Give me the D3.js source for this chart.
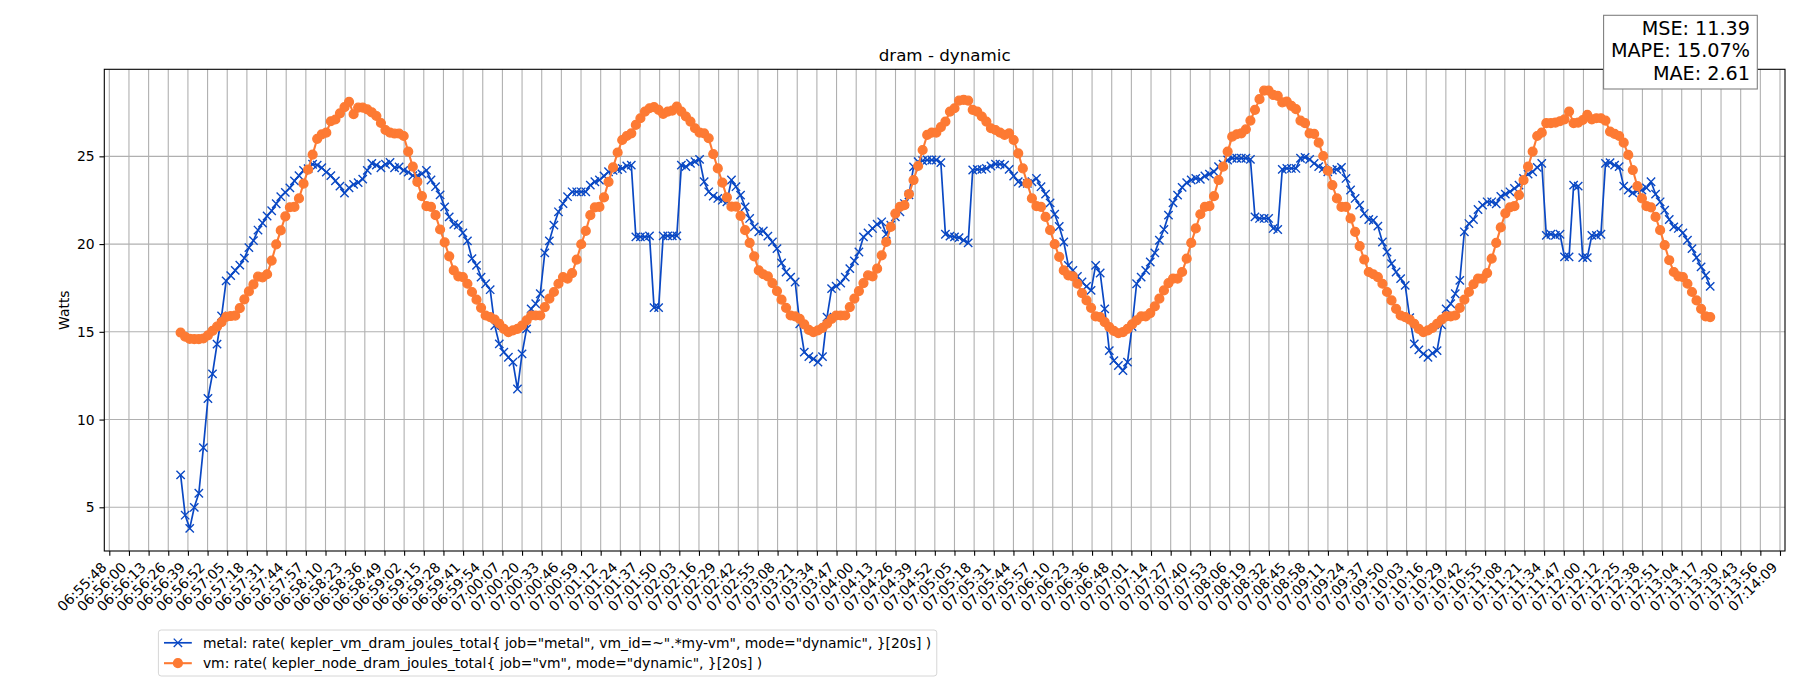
<!DOCTYPE html>
<html><head><meta charset="utf-8">
<script src="https://cdn.jsdelivr.net/npm/d3@7"></script>
<style>
body{margin:0;background:#fff}
text{font-family:"DejaVu Sans",sans-serif;white-space:pre;fill:#000}
</style>
</head><body>
<svg id="chart" width="1800" height="700"></svg>
<script>
const chartTitle = "dram - dynamic";
const yAxisLabel = "Watts";
const tickLabels = ["06:55:48","06:56:00","06:56:13","06:56:26","06:56:39","06:56:52","06:57:05","06:57:18","06:57:31","06:57:44","06:57:57","06:58:10","06:58:23","06:58:36","06:58:49","06:59:02","06:59:15","06:59:28","06:59:41","06:59:54","07:00:07","07:00:20","07:00:33","07:00:46","07:00:59","07:01:12","07:01:24","07:01:37","07:01:50","07:02:03","07:02:16","07:02:29","07:02:42","07:02:55","07:03:08","07:03:21","07:03:34","07:03:47","07:04:00","07:04:13","07:04:26","07:04:39","07:04:52","07:05:05","07:05:18","07:05:31","07:05:44","07:05:57","07:06:10","07:06:23","07:06:36","07:06:48","07:07:01","07:07:14","07:07:27","07:07:40","07:07:53","07:08:06","07:08:19","07:08:32","07:08:45","07:08:58","07:09:11","07:09:24","07:09:37","07:09:50","07:10:03","07:10:16","07:10:29","07:10:42","07:10:55","07:11:08","07:11:21","07:11:34","07:11:47","07:12:00","07:12:12","07:12:25","07:12:38","07:12:51","07:13:04","07:13:17","07:13:30","07:13:43","07:13:56","07:14:09"];
const yTickValues = [5, 10, 15, 20, 25];
const startTime = "06:56:35";
const stepSeconds = 3;
const seriesNames = [
  'metal: rate( kepler_vm_dram_joules_total{ job="metal", vm_id=~".*my-vm", mode="dynamic", }[20s] )',
  'vm: rate( kepler_node_dram_joules_total{ job="vm", mode="dynamic", }[20s] )'
];
const metricLines = ["MSE: 11.39", "MAPE: 15.07%", "MAE: 2.61"];
const metalValues = [6.85,4.55,3.8,5.0,5.8,8.4,11.2,12.6,14.3,15.9,17.9,18.2,18.5,18.8,19.2,19.8,20.2,20.8,21.2,21.6,21.9,22.3,22.7,22.95,23.2,23.6,23.9,24.2,24.3,24.55,24.5,24.35,24.1,23.9,23.6,23.3,22.9,23.2,23.4,23.5,23.7,24.2,24.6,24.5,24.35,24.55,24.65,24.35,24.4,24.2,24.1,23.9,23.9,24.0,24.2,23.65,23.27,22.8,22.12,21.55,21.13,21.08,20.64,20.18,19.17,18.79,18.12,17.74,17.4,15.36,14.31,13.84,13.55,13.27,11.74,13.74,15.17,16.31,16.6,17.17,19.5,20.18,21.08,21.84,22.31,22.7,22.98,22.98,22.98,22.98,23.36,23.55,23.65,23.88,24.12,24.2,24.25,24.31,24.45,24.5,20.41,20.41,20.41,20.47,16.38,16.38,20.47,20.47,20.47,20.47,24.5,24.41,24.6,24.7,24.83,23.55,22.98,22.73,22.6,22.5,22.41,23.65,23.27,22.79,22.12,21.46,20.98,20.7,20.75,20.45,20.12,19.74,18.92,18.41,18.12,17.84,15.46,13.84,13.59,13.46,13.27,13.59,15.84,17.46,17.6,17.78,18.12,18.6,19.04,19.55,20.41,20.64,20.89,21.13,21.27,20.56,21.08,21.55,21.84,22.31,22.8,24.4,24.7,24.75,24.79,24.79,24.79,24.64,20.56,20.45,20.41,20.37,20.22,20.07,24.22,24.26,24.26,24.31,24.45,24.56,24.56,24.5,24.26,23.88,23.55,23.46,23.46,23.55,23.74,23.27,22.85,22.35,21.7,21.0,20.12,18.79,18.5,18.16,17.84,17.59,17.36,18.79,18.35,16.31,13.93,13.36,13.08,12.79,13.27,15.3,17.74,18.12,18.5,18.98,19.5,20.22,20.83,21.65,22.35,22.79,23.23,23.5,23.65,23.74,23.69,23.88,23.99,24.12,24.41,24.56,24.79,24.89,24.89,24.89,24.89,24.83,21.55,21.46,21.46,21.46,20.89,20.83,24.26,24.31,24.31,24.31,24.89,24.94,24.83,24.6,24.41,24.31,24.12,24.22,24.26,24.37,23.74,23.08,22.6,22.22,21.74,21.4,21.36,21.02,20.12,19.55,18.89,18.41,18.03,17.65,15.8,14.31,13.97,13.74,13.55,13.78,13.93,15.4,16.31,16.6,17.17,17.93,20.7,21.17,21.4,21.97,22.22,22.41,22.41,22.3,22.72,22.85,22.98,23.17,23.36,23.74,23.99,24.12,24.37,24.6,20.5,20.56,20.5,20.56,19.27,19.27,23.36,23.3,19.23,19.23,20.5,20.5,20.56,24.6,24.64,24.5,24.41,23.3,23.08,22.92,23.04,23.08,23.2,23.55,22.85,22.41,21.93,21.4,20.98,20.89,20.64,20.22,19.74,19.23,18.7,18.22,17.59];
const vmValues = [14.96,14.72,14.6,14.58,14.58,14.62,14.8,15.05,15.3,15.55,15.85,15.9,15.92,16.35,16.85,17.3,17.7,18.15,18.1,18.28,19.06,19.98,20.78,21.58,22.1,22.12,22.6,23.44,24.24,25.1,26.0,26.25,26.35,27.0,27.1,27.45,27.8,28.1,27.4,27.78,27.78,27.68,27.5,27.3,26.9,26.5,26.35,26.3,26.3,26.16,25.27,24.41,23.55,22.73,22.16,22.12,21.65,20.83,20.1,19.3,18.5,18.16,18.12,17.74,17.27,16.83,16.37,15.93,15.84,15.69,15.46,15.17,14.98,15.08,15.17,15.36,15.65,15.93,15.93,15.93,16.41,16.89,17.27,17.74,18.12,18.03,18.35,19.11,19.99,20.75,21.65,22.09,22.12,22.66,23.55,24.37,25.22,25.93,26.16,26.31,26.79,27.17,27.55,27.74,27.8,27.65,27.42,27.55,27.61,27.84,27.55,27.27,26.98,26.6,26.35,26.31,26.03,25.13,24.31,23.5,22.66,22.13,22.13,21.61,20.79,20.07,19.3,18.5,18.28,18.16,17.78,17.32,16.83,16.37,15.93,15.88,15.74,15.42,15.11,14.98,15.08,15.23,15.46,15.74,15.93,15.93,15.93,16.41,16.89,17.32,17.78,18.22,18.16,18.6,19.36,20.12,20.98,21.74,22.12,22.22,22.85,23.65,24.45,25.36,26.22,26.35,26.35,26.66,26.98,27.55,27.74,28.18,28.22,28.18,27.65,27.55,27.27,26.98,26.6,26.5,26.35,26.22,26.31,25.93,25.17,24.31,23.46,22.6,22.16,22.12,21.55,20.79,20.0,19.27,18.5,18.22,18.16,17.74,17.21,16.79,16.37,15.88,15.84,15.55,15.27,15.05,14.92,14.98,15.17,15.42,15.65,15.88,15.88,16.07,16.45,16.89,17.36,17.78,18.03,18.03,18.41,19.17,20.07,20.89,21.7,22.12,22.16,22.73,23.65,24.41,25.27,26.12,26.26,26.31,26.54,27.04,27.65,28.26,28.75,28.75,28.5,28.45,28.07,28.12,27.88,27.69,27.04,26.89,26.31,26.28,25.78,25.02,24.18,23.36,22.6,22.12,22.12,21.46,20.7,19.88,19.12,18.41,18.28,18.12,17.74,17.27,16.79,16.31,15.93,15.84,15.69,15.46,15.17,14.98,15.08,15.23,15.46,15.69,15.88,15.88,15.93,16.37,16.83,17.27,17.71,18.03,18.03,18.35,19.17,20.07,20.95,21.75,22.09,22.16,22.79,23.65,24.41,25.27,26.16,26.35,26.89,26.89,26.92,27.0,27.11,27.55,26.89,26.92,27.07,27.36,27.11,27.17,27.17,27.04,26.41,26.28,26.16,25.78,25.08,24.22,23.3,22.6,22.16,22.09,21.55,20.79,19.94,19.08,18.41,18.16,18.12,17.74,17.27,16.79,16.31,15.88,15.84];

// ---- layout ----
const W = 1800, H = 700;
const A = {left: 104.3, right: 1785, top: 69.3, bottom: 551};
const padPx = 5;
const colors = {metal: "#0a48c4", vm: "#fd7a33"};
const fs = 13.9;

const parse = d3.timeParse("%H:%M:%S");
const t0 = parse(tickLabels[0]);
const t1 = parse(tickLabels[tickLabels.length - 1]);
const spanMs = t1 - t0;
const pxPerMs = (A.right - A.left - 2 * padPx) / spanMs;
const x = d3.scaleTime()
  .domain([new Date(+t0 - padPx / pxPerMs), new Date(+t1 + padPx / pxPerMs)])
  .range([A.left, A.right]);
const tickDates = tickLabels.map((l, i) => new Date(+t0 + spanMs * i / (tickLabels.length - 1)));
const y = d3.scaleLinear().domain([2.51, 29.96]).range([A.bottom, A.top]);

const start = parse(startTime);
const timeAt = i => new Date(+start + i * stepSeconds * 1000);

const svg = d3.select("#chart");
svg.append("rect").attr("width", W).attr("height", H).attr("fill", "#fff");

// grid
const grid = svg.append("g");
grid.selectAll("line.v").data(tickDates).join("line")
  .attr("x1", d => x(d)).attr("x2", d => x(d)).attr("y1", A.top).attr("y2", A.bottom)
  .attr("stroke", "#b0b0b0").attr("stroke-width", 1.1);
grid.selectAll("line.h").data(yTickValues).join("line")
  .attr("x1", A.left).attr("x2", A.right).attr("y1", d => y(d)).attr("y2", d => y(d))
  .attr("stroke", "#b0b0b0").attr("stroke-width", 1.1);

// axes
const tickLen = 4.86, tickPad = 4.86;
const xAxis = svg.append("g").attr("transform", `translate(0,${A.bottom})`)
  .call(d3.axisBottom(x).tickValues(tickDates).tickFormat((d, i) => tickLabels[i])
    .tickSize(tickLen).tickPadding(tickPad));
xAxis.select(".domain").remove();
xAxis.selectAll(".tick line").attr("stroke", "#000").attr("stroke-width", 1.1);
xAxis.selectAll(".tick text")
  .attr("font-family", "DejaVu Sans").attr("font-size", fs)
  .attr("text-anchor", "end").attr("dy", null).attr("x", 0).attr("y", 0)
  .attr("transform", `translate(${-0.707 * 0.236 * fs},${tickLen + tickPad + 0.707 * 0.76 * fs}) rotate(-45)`);

const yAxis = svg.append("g").attr("transform", `translate(${A.left},0)`)
  .call(d3.axisLeft(y).tickValues(yTickValues).tickFormat(d3.format("d"))
    .tickSize(tickLen).tickPadding(tickPad));
yAxis.select(".domain").remove();
yAxis.selectAll(".tick line").attr("stroke", "#000").attr("stroke-width", 1.1);
yAxis.selectAll(".tick text").attr("font-family", "DejaVu Sans").attr("font-size", fs);

// spines
svg.append("rect").attr("x", A.left).attr("y", A.top)
  .attr("width", A.right - A.left).attr("height", A.bottom - A.top)
  .attr("fill", "none").attr("stroke", "#000").attr("stroke-width", 1.1);

// title & y label
svg.append("text").attr("x", (A.left + A.right) / 2).attr("y", A.top - 8.33)
  .attr("text-anchor", "middle").attr("font-size", 16.7).text(chartTitle);
svg.append("text").attr("transform", `translate(69,${(A.top + A.bottom) / 2}) rotate(-90)`)
  .attr("text-anchor", "middle").attr("font-size", fs).text(yAxisLabel);

// series
const line = d3.line().x((d, i) => x(timeAt(i))).y(d => y(d));
const xMark = "M-4.17,-4.17L4.17,4.17M-4.17,4.17L4.17,-4.17";
const dotR = 4.4;

const gMetal = svg.append("g");
gMetal.append("path").datum(metalValues).attr("d", line)
  .attr("fill", "none").attr("stroke", colors.metal).attr("stroke-width", 1.7).attr("stroke-linejoin", "round");
gMetal.selectAll("path.m").data(metalValues).join("path").attr("class", "m")
  .attr("transform", (d, i) => `translate(${x(timeAt(i))},${y(d)})`)
  .attr("d", xMark).attr("fill", "none").attr("stroke", colors.metal).attr("stroke-width", 1.39);

const gVm = svg.append("g");
gVm.append("path").datum(vmValues).attr("d", line)
  .attr("fill", "none").attr("stroke", colors.vm).attr("stroke-width", 2.08).attr("stroke-linejoin", "round");
gVm.selectAll("circle").data(vmValues).join("circle")
  .attr("cx", (d, i) => x(timeAt(i))).attr("cy", d => y(d)).attr("r", dotR)
  .attr("fill", colors.vm).attr("stroke", colors.vm).attr("stroke-width", 1.39);

// legend
const L = {x: 158.4, y: 630, h: 46};
const legend = svg.append("g");
const frame = legend.append("rect").attr("x", L.x).attr("y", L.y).attr("height", L.h)
  .attr("rx", 2.8).attr("fill", "#fff").attr("fill-opacity", 0.8)
  .attr("stroke", "#d6d6d6").attr("stroke-width", 1);
const hx0 = L.x + 5.6, hx1 = hx0 + 27.8, tx = hx1 + 11.1;
const rowsY = [642.8, 663.2];
let maxW = 0;
seriesNames.forEach((name, k) => {
  const cy = rowsY[k];
  const col = k === 0 ? colors.metal : colors.vm;
  legend.append("line").attr("x1", hx0).attr("x2", hx1).attr("y1", cy).attr("y2", cy)
    .attr("stroke", col).attr("stroke-width", k === 0 ? 1.7 : 2.08);
  if (k === 0) {
    legend.append("path").attr("transform", `translate(${(hx0 + hx1) / 2},${cy})`)
      .attr("d", xMark).attr("fill", "none").attr("stroke", col).attr("stroke-width", 1.39);
  } else {
    legend.append("circle").attr("cx", (hx0 + hx1) / 2).attr("cy", cy).attr("r", dotR)
      .attr("fill", col).attr("stroke", col).attr("stroke-width", 1.39);
  }
  const t = legend.append("text").attr("x", tx).attr("y", cy + 3.65 + 1.2)
    .attr("font-size", fs).text(name);
  maxW = Math.max(maxW, t.node().getComputedTextLength());
});
frame.attr("width", tx - L.x + maxW + 5.6);

// metrics box
const mg = svg.append("g");
const mRect = mg.append("rect").attr("fill", "#fff").attr("stroke", "#808080").attr("stroke-width", 1.1);
const mRight = 1750;
const mBase = [35.3, 57.4, 79.5];
let mW = 0;
metricLines.forEach((s, k) => {
  const t = mg.append("text").attr("x", mRight).attr("y", mBase[k]).attr("text-anchor", "end")
    .attr("font-size", 19.2).text(s);
  mW = Math.max(mW, t.node().getComputedTextLength());
});
mRect.attr("x", mRight - mW - 7.3).attr("y", 15.3).attr("width", mW + 7.3 + 7.3).attr("height", 73.7);
</script>
</body></html>
